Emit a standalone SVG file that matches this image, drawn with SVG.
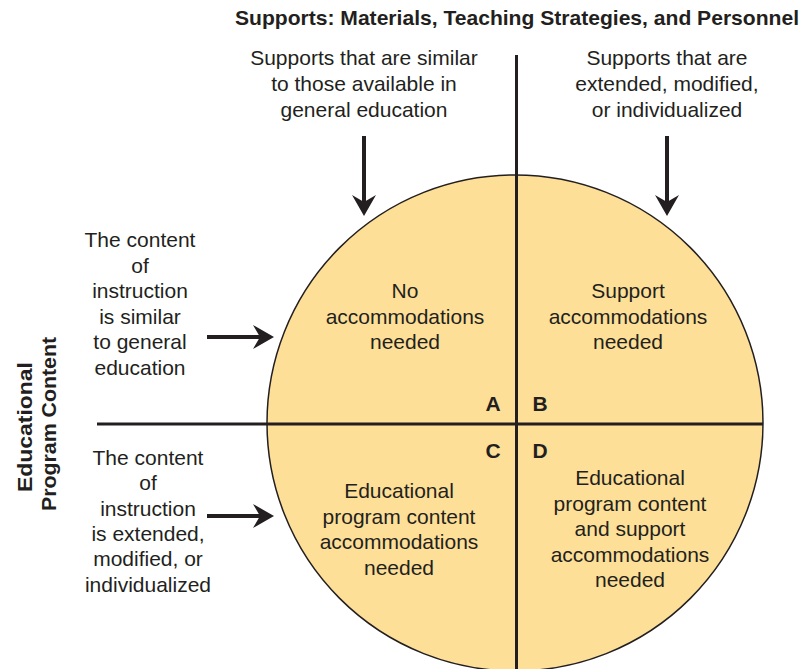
<svg xmlns="http://www.w3.org/2000/svg" width="804" height="669" viewBox="0 0 804 669">
  <style>
    text { font-family: "Liberation Sans", Arial, sans-serif; fill: #231F20; }
    .t { font-size: 21px; text-anchor: middle; }
    .b { font-size: 21px; font-weight: bold; text-anchor: middle; }
    .axis { stroke: #231F20; stroke-width: 3; fill: none; }
    .arrow { stroke: #231F20; stroke-width: 4; fill: none; marker-end: url(#head); }
  </style>
  <defs>
    <marker id="head" markerUnits="userSpaceOnUse" viewBox="0 0 21 24" refX="7" refY="12" markerWidth="21" markerHeight="24" orient="auto">
      <path d="M0,0 L21,12 L0,24 L7,12 Z" fill="#231F20"/>
    </marker>
  </defs>

  <rect width="804" height="669" fill="#FFFFFF"/>

  <!-- the circle with its four quadrants -->
  <g id="circle">
    <circle cx="515" cy="423" r="248" fill="#FEDF97" stroke="#231F20" stroke-width="1.5"/>
  </g>

  <!-- axes and arrows -->
  <g id="connectors">
    <line class="axis" x1="516.5" y1="55" x2="516.5" y2="669"/>
    <line class="axis" x1="97" y1="424" x2="763" y2="424"/>
    <line class="arrow" x1="364" y1="136" x2="364" y2="202"/>
    <line class="arrow" x1="667" y1="136" x2="667" y2="202"/>
    <line class="arrow" x1="207" y1="337" x2="260" y2="337"/>
    <line class="arrow" x1="207" y1="516" x2="260" y2="516"/>
  </g>

  <!-- axis titles -->
  <g id="supports-title">
    <text class="b" x="517" y="25" textLength="564" lengthAdjust="spacingAndGlyphs">Supports: Materials, Teaching Strategies, and Personnel</text>
  </g>
  <g id="content-title">
    <text class="b" transform="translate(32,427) rotate(-90)" textLength="130" lengthAdjust="spacingAndGlyphs">Educational</text>
    <text class="b" transform="translate(56,424) rotate(-90)" textLength="174" lengthAdjust="spacingAndGlyphs">Program Content</text>
  </g>

  <!-- column headings -->
  <g id="supports-similar">
    <text class="t" x="364" y="65">Supports that are similar</text>
    <text class="t" x="364" y="91">to those available in</text>
    <text class="t" x="364" y="117">general education</text>
  </g>
  <g id="supports-extended">
    <text class="t" x="667" y="65">Supports that are</text>
    <text class="t" x="667" y="91">extended, modified,</text>
    <text class="t" x="667" y="117">or individualized</text>
  </g>

  <!-- row headings -->
  <g id="content-similar">
    <text class="t" x="140" y="247">The content</text>
    <text class="t" x="140" y="272.5">of</text>
    <text class="t" x="140" y="298">instruction</text>
    <text class="t" x="140" y="323.5">is similar</text>
    <text class="t" x="140" y="349">to general</text>
    <text class="t" x="140" y="374.5">education</text>
  </g>
  <g id="content-extended">
    <text class="t" x="148" y="465">The content</text>
    <text class="t" x="148" y="490">of</text>
    <text class="t" x="148" y="515.5">instruction</text>
    <text class="t" x="148" y="540.5">is extended,</text>
    <text class="t" x="148" y="566">modified, or</text>
    <text class="t" x="148" y="591.5">individualized</text>
  </g>

  <!-- quadrants -->
  <g id="quadrant-a">
    <text class="t" x="405" y="298">No</text>
    <text class="t" x="405" y="323.5">accommodations</text>
    <text class="t" x="405" y="349">needed</text>
    <text class="b" x="493" y="411">A</text>
  </g>
  <g id="quadrant-b">
    <text class="t" x="628" y="298">Support</text>
    <text class="t" x="628" y="323.5">accommodations</text>
    <text class="t" x="628" y="349">needed</text>
    <text class="b" x="540" y="411">B</text>
  </g>
  <g id="quadrant-c">
    <text class="t" x="399" y="498">Educational</text>
    <text class="t" x="399" y="523.5">program content</text>
    <text class="t" x="399" y="549">accommodations</text>
    <text class="t" x="399" y="574.5">needed</text>
    <text class="b" x="493" y="458">C</text>
  </g>
  <g id="quadrant-d">
    <text class="t" x="630" y="485">Educational</text>
    <text class="t" x="630" y="510.5">program content</text>
    <text class="t" x="630" y="536">and support</text>
    <text class="t" x="630" y="561.5">accommodations</text>
    <text class="t" x="630" y="587">needed</text>
    <text class="b" x="540" y="458">D</text>
  </g>
</svg>
